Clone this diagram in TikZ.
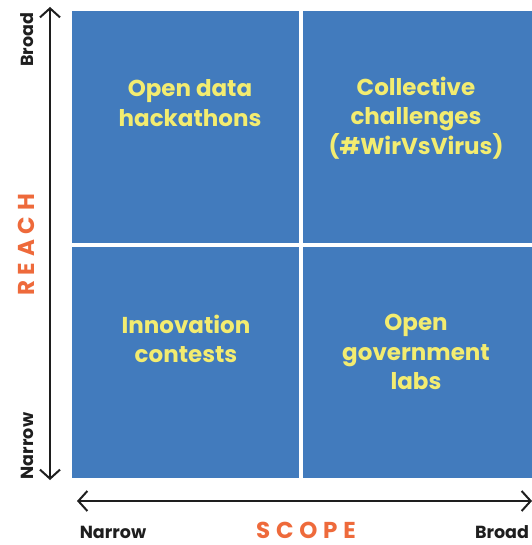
\documentclass[tikz,border=0pt]{standalone}
\usepackage{fontspec}
\setmainfont{Poppins}
\usetikzlibrary{arrows.meta}
\definecolor{qblue}{HTML}{427BBD}
\definecolor{qyellow}{HTML}{F3EC70}
\definecolor{qorange}{HTML}{EE6A3B}
\definecolor{qblack}{HTML}{1E1E1E}
\begin{document}
\begin{tikzpicture}[x=1pt,y=-1pt,
  quad/.style={fill=qblue, draw=none, minimum height=231.5pt, inner sep=0pt, outer sep=0pt},
  qtext/.style={text=qyellow, font=\fontsize{23}{29.5}\selectfont\bfseries, align=center},
  axlabel/.style={text=qblack, font=\fontsize{17.5}{19}\selectfont\bfseries},
  axtitle/.style={text=qorange, font=\fontsize{23}{25}\selectfont\bfseries},
  axarrow/.style={draw=qblack, line width=2pt, {Straight Barb[length=9pt,width=20pt,line width=2pt]}-{Straight Barb[length=9pt,width=20pt,line width=2pt]}}]
\useasboundingbox (0,0) rectangle (531,545);
% quadrants
\node[quad, minimum width=226.5pt, anchor=north west] (tl) at (72,11) {};
\node[quad, minimum width=229pt, anchor=north west] (tr) at (302.5,11) {};
\node[quad, minimum width=226.5pt, anchor=north west] (bl) at (72,246.5) {};
\node[quad, minimum width=229pt, anchor=north west] (br) at (302.5,246.5) {};
% quadrant texts
\node[qtext] (tlt) at (190,103) {Open data\\hackathons};
\node[qtext] (trt) at (416,118) {Collective\\challenges\\(\#WirVsVirus)};
\node[qtext] (blt) at (186,339) {Innovation\\contests};
\node[qtext] (brt) at (416,352) {Open\\government\\labs};
% axes
\coordinate (vtop) at (50,7);
\coordinate (vbot) at (50,480);
\coordinate (hleft) at (77,501);
\coordinate (hright) at (532,501);
\draw[axarrow] (vbot) -- (vtop);
\draw[axarrow] (hleft) -- (hright);
% axis labels
\node[axlabel, rotate=90] (broadv) at (27,40) {Broad};
\node[axlabel, rotate=90] (narrowv) at (27,446) {Narrow};
\node[axtitle, rotate=90] (reach) at (26,245) {\addfontfeature{LetterSpace=25}REACH};
\node[axlabel] (narrowh) at (113,532) {Narrow};
\node[axtitle] (scope) at (306,530) {\addfontfeature{LetterSpace=25}SCOPE};
\node[axlabel] (broadh) at (502,532) {Broad};
\end{tikzpicture}
\end{document}
